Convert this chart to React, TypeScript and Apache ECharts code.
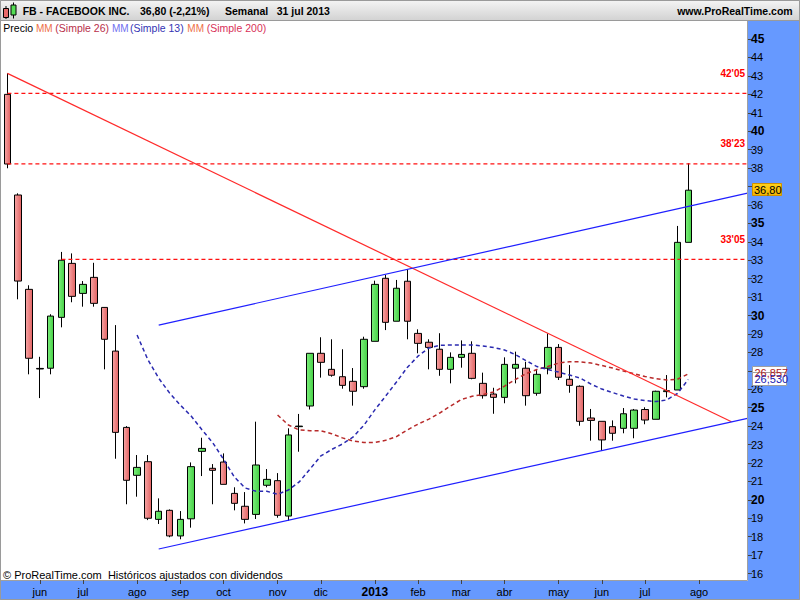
import React, { useEffect, useRef } from 'react';
import * as echarts from 'echarts';

const FONT = '"Liberation Sans", Arial, Helvetica, sans-serif';

// Weekly categories starting the week of the IPO (14 May 2012)
const START = Date.UTC(2012, 4, 14);
const weeks: string[] = Array.from({ length: 70 }, (_, i) => {
  const d = new Date(START + i * 7 * 86400000);
  return `${d.getUTCDate()}/${d.getUTCMonth() + 1}/${d.getUTCFullYear()}`;
});

// Month ticks on the time axis (index of first week of each month)
const monthTickIdx = [3, 7, 12, 16, 20, 25, 29, 34, 38, 42, 46, 51, 55, 59, 64];
const monthLabels = ['jun', 'jul', 'ago', 'sep', 'oct', 'nov', 'dic', '2013', 'feb', 'mar', 'abr', 'may', 'jun', 'jul', 'ago'];

// Price axis ticks and the labels that stay visible (37 and 27 are covered by price tags)
const yTicks = [16, 17, 18, 19, 20, 21, 22, 23, 24, 25, 26, 27, 28, 29, 30, 31, 32, 33, 34, 35, 36, 37, 38, 39, 40, 41, 42, 43, 44, 45];
const yLabels = [16, 17, 18, 19, 20, 21, 22, 23, 24, 25, 26, 28, 29, 30, 31, 32, 33, 34, 35, 36, 38, 39, 40, 41, 42, 43, 44, 45];

// Weekly OHLC
const opens = [42.0, 36.54, 31.42, 27.13, 27.14, 29.9, 32.83, 31.2, 32.07, 30.44, 28.07, 23.93, 21.33, 22.07, 18.94, 19.43, 18.04, 18.97, 22.63, 21.71, 22.05, 20.35, 19.65, 19.21, 20.79, 21.04, 19.12, 23.97, 25.09, 27.95, 27.08, 26.68, 26.43, 26.14, 28.6, 32.02, 29.69, 31.86, 29.03, 28.55, 28.17, 27.08, 27.73, 27.95, 26.32, 25.74, 25.56, 27.14, 27.14, 25.78, 27.14, 28.27, 26.54, 26.16, 24.44, 24.26, 23.97, 23.88, 23.88, 24.9, 24.37, 25.87, 25.96, 33.97];
const closes = [38.22, 31.87, 27.68, 27.1, 29.97, 33.0, 31.04, 31.69, 30.66, 28.71, 23.66, 21.06, 21.76, 19.0, 19.38, 18.04, 18.94, 21.8, 22.79, 21.6, 20.84, 19.81, 18.94, 21.89, 21.11, 19.16, 23.52, 24.0, 27.95, 27.46, 26.76, 26.21, 25.89, 28.71, 31.69, 29.63, 31.48, 29.69, 28.49, 28.27, 27.08, 27.73, 27.89, 26.59, 25.65, 25.56, 27.35, 27.35, 25.65, 26.81, 28.27, 26.65, 26.21, 24.26, 24.31, 23.25, 23.61, 24.67, 24.87, 24.33, 25.89, 25.92, 33.97, 36.8];
const lows = [37.99, 30.88, 26.81, 25.52, 26.81, 29.36, 30.72, 30.48, 30.48, 27.08, 22.23, 19.76, 20.17, 18.9, 18.69, 17.97, 17.86, 18.49, 21.29, 19.76, 20.84, 19.43, 18.72, 18.96, 20.68, 19.03, 18.87, 22.61, 24.9, 26.63, 26.68, 26.03, 25.11, 26.03, 28.6, 29.21, 29.69, 28.71, 27.95, 27.08, 26.73, 26.32, 27.17, 26.54, 25.49, 24.67, 25.24, 26.32, 25.11, 25.65, 26.81, 26.5, 25.81, 24.02, 23.21, 22.66, 23.21, 23.61, 23.34, 24.1, 24.37, 25.56, 25.96, 33.97];
const highs = [43.14, 36.63, 31.64, 27.76, 30.07, 33.45, 33.37, 31.87, 32.86, 30.45, 29.48, 24.0, 22.43, 22.43, 20.08, 19.48, 19.39, 22.03, 23.37, 21.94, 22.52, 20.68, 20.42, 24.24, 21.67, 21.45, 23.88, 24.66, 27.95, 28.82, 28.71, 28.17, 27.15, 28.85, 31.89, 32.2, 31.93, 32.51, 29.25, 28.71, 29.04, 28.0, 28.65, 28.6, 26.9, 26.08, 27.73, 28.04, 27.49, 27.04, 29.03, 28.45, 27.31, 26.21, 24.93, 24.26, 24.31, 24.98, 24.93, 25.02, 25.92, 26.77, 34.86, 38.26];

// Simple moving average 13 (blue dashed)
const sma13 = [null, null, null, null, null, null, null, null, null, null, null, null,
  28.94, 27.6, 26.6, 25.8, 25.14, 24.55, 23.8, 23.1, 22.2, 21.24, 20.64, 20.47, 20.47, 20.3, 20.53, 20.97, 21.67, 22.38, 22.73, 23.03, 23.41, 24.06, 24.88, 25.63, 26.39, 27.18, 27.8, 28.24, 28.38, 28.4, 28.4, 28.4, 28.35, 28.26, 28.13, 27.88, 27.55, 27.23, 27.07, 26.93, 26.77, 26.61, 26.28, 26.01, 25.82, 25.63, 25.47, 25.39, 25.33, 25.42, 25.77, 26.53];
// Simple moving average 26 (red dashed)
const sma26 = [null, null, null, null, null, null, null, null, null, null, null, null, null, null, null, null, null, null, null, null, null, null, null, null, null,
  24.6, 24.06, 23.79, 23.75, 23.75, 23.59, 23.36, 23.19, 23.11, 23.11, 23.23, 23.43, 23.79, 24.11, 24.38, 24.71, 25.09, 25.44, 25.62, 25.71, 25.85, 26.17, 26.53, 26.85, 27.07, 27.23, 27.42, 27.49, 27.49, 27.42, 27.29, 27.15, 26.99, 26.84, 26.69, 26.58, 26.5, 26.54, 26.83];

// Trend lines [weekIndex, price]
const resistanceLine = [[0, 43.14], [67, 24.24]];
const upperChannel = [[14, 29.48], [69, 36.71]];
const lowerChannel = [[14, 17.33], [69, 24.49]];

// Horizontal levels and the week where each one starts
const levels = [42.05, 38.23, 33.05];
const levelStarts = [0, 0, 5];
const levelLabels = ["42'05", "38'23", "33'05"];

// Axis price tags
const lastPrice = 36.8;
const lastPriceText = '36,80';
const sma26Last = 26.857;
const sma26Text = '26,857';
const sma13Last = 26.53;
const sma13Text = '26,530';

const BLUE_BAND = '#6699ff';

export default function App() {
  const ref = useRef<HTMLDivElement>(null);

  useEffect(() => {
    const chart = echarts.init(ref.current!, null, { renderer: 'svg' });
    const LG = echarts.graphic.LinearGradient;
    const green = new LG(0, 0, 1, 0, [
      { offset: 0, color: '#7cef7c' },
      { offset: 1, color: '#46d046' },
    ]);
    const red = new LG(0, 0, 1, 0, [
      { offset: 0, color: '#f6a6a6' },
      { offset: 1, color: '#e26262' },
    ]);

    const candleData = opens.map((o, i) => [o, closes[i], lows[i], highs[i]]);

    const levelSeries = levels.map((lv, k) => ({
      type: 'line',
      data: [[levelStarts[k], lv], [69, lv]],
      symbol: 'none',
      z: 3,
      color: '#ff0000',
      lineStyle: { color: '#ff1010', width: 1.3, type: [4, 3] },
    }));

    const option: any = {
      animation: false,
      grid: { left: 2, top: 21, width: 756.5, height: 559, containLabel: false },
      xAxis: {
        type: 'category',
        data: weeks,
        boundaryGap: true,
        z: 60,
        axisLine: { show: false },
        splitLine: { show: false },
        axisTick: {
          show: true,
          alignWithLabel: true,
          length: 4,
          interval: (i: number) => monthTickIdx.includes(i),
          lineStyle: { color: '#444' },
        },
        axisLabel: {
          interval: (i: number) => monthTickIdx.includes(i),
          margin: 6,
          fontSize: 11,
          fontFamily: FONT,
          color: '#000',
          formatter: (_v: string, i: number) => {
            const k = monthTickIdx.indexOf(i);
            if (k < 0) return '';
            const l = monthLabels[k];
            return /^\d+$/.test(l) ? `{b|${l}}` : l;
          },
          rich: { b: { fontSize: 12, fontWeight: 'bold', fontFamily: FONT, color: '#000' } },
        },
      },
      yAxis: {
        type: 'value',
        position: 'right',
        offset: -10.5,
        min: 15.65,
        max: 45.98,
        z: 60,
        axisLine: { show: false },
        splitLine: { show: false },
        axisTick: { show: true, length: 4, customValues: yTicks, lineStyle: { color: '#444' } },
        axisLabel: {
          customValues: yLabels,
          margin: 3,
          fontSize: 11,
          fontFamily: FONT,
          color: '#000',
          formatter: (v: number) => (Math.round(v) % 5 === 0 ? `{b|${Math.round(v)}}` : `${Math.round(v)}`),
          rich: { b: { fontSize: 12, fontWeight: 'bold', fontFamily: FONT, color: '#000' } },
        },
      },
      series: [
        {
          type: 'candlestick',
          data: candleData,
          barWidth: 7,
          z: 2,
          itemStyle: {
            color: green,
            color0: red,
            borderColor: '#000',
            borderColor0: '#000',
            borderColorDoji: '#000',
            borderWidth: 1,
          },
        },
        ...levelSeries,
        {
          type: 'line',
          data: sma26,
          symbol: 'none',
          z: 3,
          lineStyle: { color: '#b82a2a', width: 1.5, type: [4, 3] },
        },
        {
          type: 'line',
          data: sma13,
          symbol: 'none',
          z: 3,
          lineStyle: { color: '#2a2ab0', width: 1.5, type: [4, 3] },
        },
        {
          type: 'line',
          data: resistanceLine,
          symbol: 'none',
          z: 4,
          lineStyle: { color: '#ff2a2a', width: 1.2 },
        },
        {
          type: 'line',
          data: upperChannel,
          symbol: 'none',
          z: 4,
          lineStyle: { color: '#1f1fff', width: 1.2 },
        },
        {
          type: 'line',
          data: lowerChannel,
          symbol: 'none',
          z: 4,
          lineStyle: { color: '#1f1fff', width: 1.2 },
        },
      ],
    };
    chart.setOption(option);

    const py = (v: number) => chart.convertToPixel({ yAxisIndex: 0 }, v) as number;

    const txt = (x: number, y: number, text: string, o: any = {}) => ({
      type: 'text',
      x,
      y,
      z: 70,
      silent: true,
      style: {
        text,
        fill: o.fill || '#000',
        fontSize: o.size || 11,
        fontWeight: o.bold ? 'bold' : 'normal',
        fontFamily: FONT,
        align: o.align || 'left',
        verticalAlign: 'middle',
      },
    });

    const graphics: any[] = [];
    // blue axis bands
    graphics.push({ type: 'rect', z: 50, silent: true, shape: { x: 748, y: 21, width: 52, height: 579 }, style: { fill: BLUE_BAND } });
    graphics.push({ type: 'rect', z: 50, silent: true, shape: { x: 0, y: 581, width: 800, height: 19 }, style: { fill: BLUE_BAND } });
    // plot frame
    graphics.push({ type: 'rect', z: 55, silent: true, shape: { x: 0.5, y: 20.5, width: 747, height: 560 }, style: { fill: 'none', stroke: '#a0a0a0', lineWidth: 1 } });
    // header
    graphics.push({
      type: 'rect', z: 55, silent: true, shape: { x: 0.5, y: 0.5, width: 799, height: 20 },
      style: { fill: new LG(0, 0, 0, 1, [{ offset: 0, color: '#f4f4f4' }, { offset: 1, color: '#d2d2d2' }]), stroke: '#9a9a9a' },
    });
    // outer frame
    graphics.push({ type: 'rect', z: 56, silent: true, shape: { x: 0.5, y: 0.5, width: 799, height: 599 }, style: { fill: 'none', stroke: '#9a9a9a' } });
    // header icon
    graphics.push({ type: 'line', z: 60, shape: { x1: 6, y1: 6, x2: 6, y2: 19 }, style: { stroke: '#000' } });
    graphics.push({ type: 'rect', z: 61, shape: { x: 3.5, y: 8.5, width: 5, height: 9 }, style: { fill: '#e86a6a', stroke: '#000' } });
    graphics.push({ type: 'line', z: 60, shape: { x1: 13.5, y1: 2.5, x2: 13.5, y2: 18.5 }, style: { stroke: '#000' } });
    graphics.push({ type: 'rect', z: 61, shape: { x: 11, y: 5, width: 5, height: 10 }, style: { fill: '#55dd55', stroke: '#000' } });
    // header texts
    graphics.push(txt(22.7, 11, 'FB - FACEBOOK INC.', { bold: true, size: 10.5 }));
    graphics.push(txt(140, 11, '36,80 (-2,21%)', { bold: true, size: 10.5 }));
    graphics.push(txt(225, 11, 'Semanal', { bold: true, size: 10.5 }));
    graphics.push(txt(276.7, 11, '31 jul 2013', { bold: true, size: 10.5 }));
    graphics.push(txt(792.7, 11, 'www.ProRealTime.com', { bold: true, size: 10.5, align: 'right' }));
    // legend
    graphics.push(txt(3.3, 28, 'Precio', { size: 10.5 }));
    graphics.push(txt(36, 28, 'MM', { fill: '#ee7048', size: 10 }));
    graphics.push(txt(55.3, 28, '(Simple 26)', { fill: '#b8304a', size: 10.5 }));
    graphics.push(txt(112, 28, 'MM', { fill: '#7070f0', size: 10 }));
    graphics.push(txt(130, 28, '(Simple 13)', { fill: '#3434b4', size: 10.5 }));
    graphics.push(txt(187.3, 28, 'MM', { fill: '#ee7048', size: 10 }));
    graphics.push(txt(206.7, 28, '(Simple 200)', { fill: '#d83058', size: 10.5 }));
    // footer
    graphics.push(txt(3, 575, '\u00A9 ProRealTime.com  Hist\u00F3ricos ajustados con dividendos'));
    // level labels
    levels.forEach((lv, k) => {
      graphics.push(txt(745, py(lv) - 20, levelLabels[k], { fill: '#ff0000', bold: true, size: 10, align: 'right' }));
    });
    // price tags
    const tag = (v: number, text: string, fill: string, stroke: string, color: string, w: number) => {
      const y = py(v);
      graphics.push({ type: 'rect', z: 72, silent: true, shape: { x: 752.5, y: Math.round(y) - 6.5, width: w, height: 13 }, style: { fill, stroke, lineWidth: 1 } });
      graphics.push({ ...txt(754.5, y, text, { fill: color }), z: 73 });
    };
    graphics.push({
      type: 'rect', z: 72, silent: true,
      shape: { x: 752.5, y: Math.round(py(lastPrice)) - 6.5, width: 29, height: 12 },
      style: { fill: new LG(0, 0, 0, 1, [{ offset: 0, color: '#ffd21a' }, { offset: 1, color: '#f2b400' }]), stroke: '#d09000' },
    });
    graphics.push({ ...txt(754, py(lastPrice) - 0.5, lastPriceText, { fill: '#000' }), z: 73 });
    tag(sma26Last, sma26Text, '#ffffff', '#a0a0a0', '#b02020', 34);
    tag(sma13Last, sma13Text, '#ffffff', '#a0a0a0', '#2020b0', 34);

    chart.setOption({ graphic: graphics });

    return () => chart.dispose();
  }, []);

  return <div ref={ref} style={{ position: 'absolute', left: 0, top: 0, width: 800, height: 600 }} />;
}
